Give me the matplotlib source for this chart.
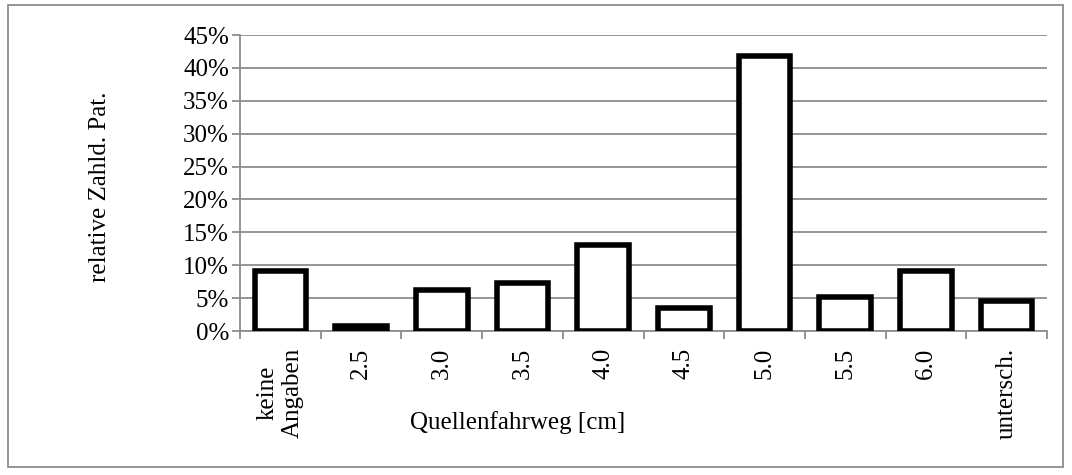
import matplotlib.pyplot as plt
from matplotlib.patches import Rectangle
from matplotlib.ticker import FuncFormatter, FixedLocator

categories = ['keine\nAngaben', '2.5', '3.0', '3.5', '4.0', '4.5', '5.0', '5.5', '6.0', 'untersch.']
values = [9.1, 0.7, 6.2, 7.3, 13.0, 3.5, 41.8, 5.2, 9.1, 4.6]

plt.rcParams['font.family'] = ['Liberation Serif', 'DejaVu Serif']

fig = plt.figure(figsize=(10.72, 4.75), dpi=100)
ax = fig.add_axes([240 / 1072, 1 - 331 / 475, 807 / 1072, 296 / 475])

x = list(range(len(categories)))
ax.bar(x, values, width=0.64, color='white', edgecolor='black', linewidth=4, zorder=3)

ax.set_xlim(-0.5, len(categories) - 0.5)
ax.set_ylim(0, 45)
ax.set_yticks(range(0, 50, 5))
ax.yaxis.set_major_formatter(FuncFormatter(lambda v, p: f'{int(v)}%'))
ax.grid(axis='y', color='#8c8c8c', linewidth=1.3, zorder=0)

ax.set_xticks(x)
ax.set_xticklabels(categories, rotation=90, multialignment='center', linespacing=1.15)
ax.xaxis.set_minor_locator(FixedLocator([i - 0.5 for i in range(len(categories) + 1)]))
ax.tick_params(axis='x', which='major', length=0, pad=12, labelsize=18)
ax.tick_params(axis='x', which='minor', length=6, color='#8c8c8c', width=1.3)
ax.tick_params(axis='y', length=6, color='#8c8c8c', width=1.3, labelsize=18, pad=2)

for s in ['top', 'right']:
    ax.spines[s].set_visible(False)
for s in ['left', 'bottom']:
    ax.spines[s].set_color('#8c8c8c')
    ax.spines[s].set_linewidth(1.3)

fig.text(100 / 1072, 1 - 187 / 475, 'relative Zahld. Pat.', rotation=90,
         ha='center', va='center', fontsize=18)
fig.text(518 / 1072, 1 - 423 / 475, 'Quellenfahrweg [cm]', ha='center', va='center', fontsize=18)

fig.patches.append(Rectangle((8 / 1072, 1 - 467 / 475), 1055 / 1072, 462 / 475,
                             transform=fig.transFigure, fill=False,
                             edgecolor='#8c8c8c', linewidth=1.3))

fig.savefig('out.png', dpi=100)
